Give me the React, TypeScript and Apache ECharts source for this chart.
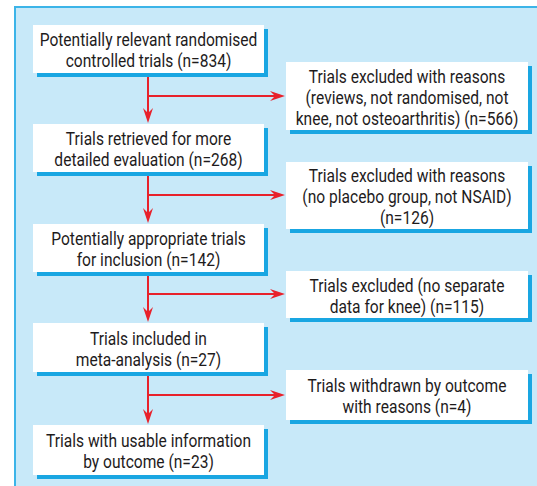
import React, { useEffect, useRef } from "react";
import * as echarts from "echarts";

const leftTexts: string[][] = [
  ["Potentially relevant randomised", "controlled trials (n=834)"],
  ["Trials retrieved for more", "detailed evaluation (n=268)"],
  ["Potentially appropriate trials", "for inclusion (n=142)"],
  ["Trials included in", "meta-analysis (n=27)"],
  ["Trials with usable information", "by outcome (n=23)"],
];
const rightTexts: string[][] = [
  ["Trials excluded with reasons", "(reviews, not randomised, not", "knee, not osteoarthritis) (n=566)"],
  ["Trials excluded with reasons", "(no placebo group, not NSAID)", "(n=126)"],
  ["Trials excluded (no separate", "data for knee) (n=115)"],
  ["Trials withdrawn by outcome", "with reasons (n=4)"],
];

// layout
const LX0 = 33, LX1 = 264;
const leftTops = [25, 124, 224, 323, 425];
const leftBottoms = [73, 172, 272, 372, 475];
const RX0 = 286, RX1 = 528;
const rightTops = [62, 162, 271, 370];
const rightBottoms = [130, 229, 318, 420];
const arrowYs = [96, 195, 294, 395];
const AX = 148;

const FONT = "Roboto, 'Liberation Sans', sans-serif";
const RED = "#e8212b";
const SHADOW = "#19a6e2";

function box(x0: number, y0: number, x1: number, y1: number, lines: string[]) {
  return [
    { type: "rect", shape: { x: x0 + 4, y: y0 + 4, width: x1 - x0, height: y1 - y0 }, style: { fill: SHADOW } },
    { type: "rect", shape: { x: x0, y: y0, width: x1 - x0, height: y1 - y0 }, style: { fill: "#ffffff" } },
    {
      type: "text",
      x: (x0 + x1) / 2,
      y: (y0 + y1) / 2 + 1,
      scaleX: 0.82,
      style: {
        text: lines.join("\n"),
        align: "center",
        verticalAlign: "middle",
        fontFamily: FONT,
        fontSize: 19,
        lineHeight: 21,
        fill: "#1e1b1c",
      },
    },
  ];
}

function arrowHeadDown(x: number, yTip: number) {
  return {
    type: "polygon",
    shape: { points: [[x, yTip], [x - 5, yTip - 15], [x, yTip - 10], [x + 5, yTip - 15]] },
    style: { fill: RED },
  };
}
function arrowHeadRight(xTip: number, y: number) {
  return {
    type: "polygon",
    shape: { points: [[xTip, y], [xTip - 15, y - 5], [xTip - 10, y], [xTip - 15, y + 5]] },
    style: { fill: RED },
  };
}

export default function App() {
  const ref = useRef<HTMLDivElement>(null);
  useEffect(() => {
    document.body.style.margin = "0";
    const chart = echarts.init(ref.current!, null, { renderer: "svg" });
    const elements: any[] = [];
    elements.push({
      type: "rect",
      shape: { x: 15, y: 7, width: 560, height: 520 },
      style: { fill: "#c8e9f9", stroke: "#3cb4e8", lineWidth: 2 },
    });
    for (let i = 0; i < 4; i++) {
      elements.push({
        type: "line",
        shape: { x1: AX, y1: leftBottoms[i], x2: AX, y2: leftTops[i + 1] - 4 },
        style: { stroke: RED, lineWidth: 2 },
      });
      elements.push(arrowHeadDown(AX, leftTops[i + 1] - 1));
      elements.push({
        type: "line",
        shape: { x1: AX, y1: arrowYs[i], x2: RX0 - 6, y2: arrowYs[i] },
        style: { stroke: RED, lineWidth: 2 },
      });
      elements.push(arrowHeadRight(RX0 - 1, arrowYs[i]));
    }
    leftTexts.forEach((t, i) => elements.push(...box(LX0, leftTops[i], LX1, leftBottoms[i], t)));
    rightTexts.forEach((t, i) => elements.push(...box(RX0, rightTops[i], RX1, rightBottoms[i], t)));

    chart.setOption({ animation: false, graphic: { elements } });
    return () => chart.dispose();
  }, []);
  return <div ref={ref} style={{ width: 537, height: 486, position: "absolute", left: 0, top: 0 }} />;
}
